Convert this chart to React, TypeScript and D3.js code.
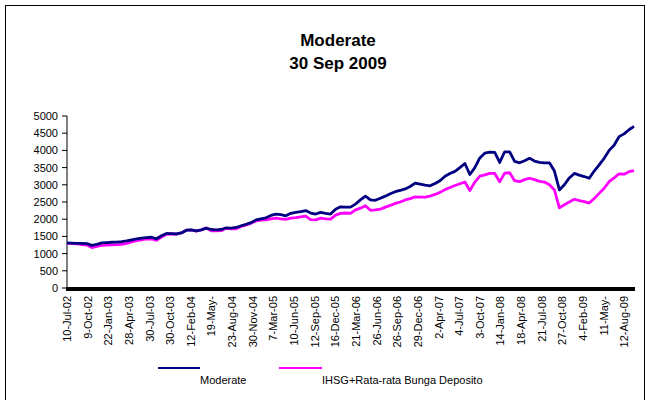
import React from "react";
import * as d3 from "d3";

const tickLabels = [
  "10-Jul-02", "9-Oct-02", "22-Jan-03", "28-Apr-03", "30-Jul-03", "30-Oct-03", "12-Feb-04",
  "19-May-", "23-Aug-04", "30-Nov-04", "7-Mar-05", "10-Jun-05", "12-Sep-05", "16-Dec-05",
  "21-Mar-06", "26-Jun-06", "26-Sep-06", "29-Dec-06", "2-Apr-07", "4-Jul-07", "3-Oct-07",
  "14-Jan-08", "18-Apr-08", "21-Jul-08", "27-Oct-08", "4-Feb-09", "11-May-", "12-Aug-09",
];

const moderate = [
  1310, 1305, 1300, 1300, 1290, 1240, 1270, 1310, 1320, 1330,
  1335, 1345, 1370, 1400, 1425, 1450, 1465, 1475, 1430, 1520,
  1585, 1580, 1570, 1600, 1680, 1690, 1660, 1690, 1740, 1700,
  1690, 1700, 1750, 1740, 1760, 1810, 1850, 1900, 1980, 2010,
  2040, 2110, 2150, 2130, 2100, 2170, 2200, 2220, 2250, 2180,
  2150, 2200, 2170, 2150, 2290, 2360, 2350, 2350, 2440, 2560,
  2670, 2560, 2550, 2610, 2670, 2740, 2800, 2840, 2880, 2950,
  3050, 3020, 2990, 2970, 3040, 3120, 3250, 3330, 3390, 3500,
  3620, 3300, 3500, 3780, 3920, 3950, 3940, 3650, 3960, 3960,
  3680, 3640, 3700, 3770, 3690, 3650, 3640, 3640, 3400, 2850,
  3000, 3200, 3330, 3280, 3240, 3190, 3400, 3580, 3770, 4000,
  4150, 4400, 4480, 4600, 4700,
];

const benchmark = [
  1300, 1290, 1280, 1260, 1250, 1175, 1210, 1240, 1250, 1255,
  1260, 1270, 1300, 1340, 1375, 1400, 1425, 1430, 1385, 1480,
  1560, 1570, 1565, 1600, 1680, 1680, 1650, 1690, 1745, 1660,
  1660, 1665, 1735, 1720, 1720, 1790, 1830, 1880, 1950, 1975,
  1980, 2010, 2030, 2010, 1995, 2030, 2045, 2070, 2090, 1990,
  1980, 2030, 2010, 2000, 2120, 2170, 2180, 2170, 2270, 2320,
  2390, 2260, 2270, 2290, 2350, 2400, 2460, 2500, 2560, 2600,
  2650, 2640, 2640, 2670, 2720, 2780, 2860, 2920, 2980, 3030,
  3080, 2830, 3080, 3250, 3290, 3330, 3330, 3090, 3340, 3350,
  3120, 3090, 3150, 3190, 3150, 3100, 3080, 3000, 2850, 2330,
  2420, 2500, 2580, 2540, 2510, 2470, 2600, 2750, 2900, 3090,
  3200, 3320, 3310, 3380, 3410,
];

const yTicks = [0, 500, 1000, 1500, 2000, 2500, 3000, 3500, 4000, 4500, 5000];
const pointsPerLabel = 4.15;
const seriesNames = ["Moderate", "IHSG+Rata-rata Bunga Deposito"];
const seriesColors = ["#000080", "#ff00ff"];

export default function App() {
  const W = 648, H = 400;
  const left = 67, right = 634, top = 116, bottom = 288;
  const x = d3.scaleLinear().domain([0, moderate.length - 1]).range([left, right]);
  const y = d3.scaleLinear().domain([0, 5000]).range([bottom, top]);
  const line = d3.line<number>().x((_, i) => x(i)).y((d) => y(d));
  const font = "Arial, 'Liberation Sans', sans-serif";

  return (
    <svg width={W} height={H} style={{ position: "absolute", left: 0, top: 0, background: "#fff" }} fontFamily={font}>
      <rect x={0} y={0} width={W} height={H} fill="#fff" />
      <rect x={5.5} y={5.5} width={639} height={420} fill="none" stroke="#000" strokeWidth={1} />
      <text x={338} y={46} textAnchor="middle" fontSize={17} fontWeight="bold">Moderate</text>
      <text x={338} y={69} textAnchor="middle" fontSize={17} fontWeight="bold">30 Sep 2009</text>

      {/* y axis */}
      <line x1={left} x2={left} y1={top} y2={bottom} stroke="#000" strokeWidth={1} />
      {yTicks.map((t) => (
        <g key={t}>
          <line x1={left - 5} x2={left} y1={y(t)} y2={y(t)} stroke="#000" />
          <text x={58} y={y(t) + 4} textAnchor="end" fontSize={11}>{t}</text>
        </g>
      ))}

      {/* series */}
      <path d={line(benchmark) || ""} fill="none" stroke={seriesColors[1]} strokeWidth={2.8} strokeLinejoin="round" />
      <path d={line(moderate) || ""} fill="none" stroke={seriesColors[0]} strokeWidth={2.8} strokeLinejoin="round" />

      {/* x axis */}
      <rect x={left - 1} y={bottom - 1} width={right - left + 2} height={4} fill="#000" />
      {tickLabels.map((l, k) => {
        const px = x(k * pointsPerLabel);
        return (
          <text key={l + k} transform={`translate(${px + 4},296) rotate(-90)`} textAnchor="end" fontSize={11}>{l}</text>
        );
      })}

      {/* legend */}
      <line x1={158} x2={200} y1={368} y2={368} stroke={seriesColors[0]} strokeWidth={2} />
      <text x={200} y={384} fontSize={11}>{seriesNames[0]}</text>
      <line x1={279} x2={322} y1={368} y2={368} stroke={seriesColors[1]} strokeWidth={2} />
      <text x={322} y={384} fontSize={11}>{seriesNames[1]}</text>
    </svg>
  );
}
